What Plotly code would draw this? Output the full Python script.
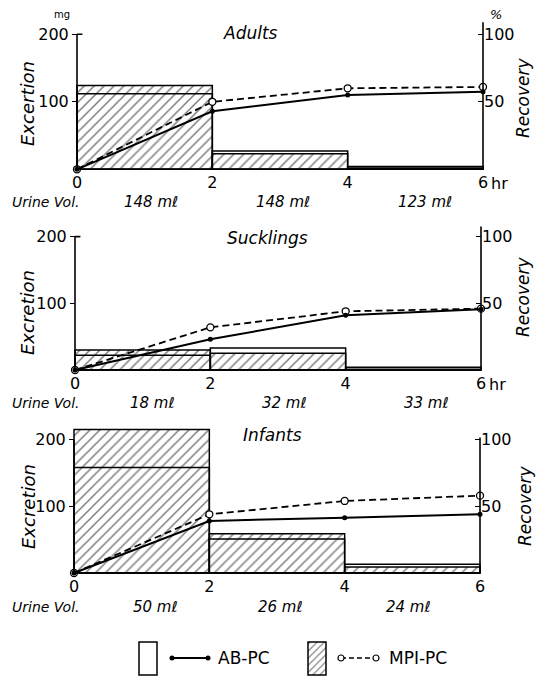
import plotly.graph_objects as go

# ---------------- data ----------------
hours = [0, 2, 4, 6]
bin_centers = [1, 3, 5]
hour_labels = ["0", "2", "4", "6"]
panel_titles = ["Adults", "Sucklings", "Infants"]
excretion_titles = ["Excertion", "Excretion", "Excretion"]
legend_names = ["AB-PC", "MPI-PC"]

# excretion per 2-h period (mg)
adults_ab_mg = [112, 27, 4]
adults_mpi_mg = [124, 23, 2]
sucklings_ab_mg = [22, 33, 4]
sucklings_mpi_mg = [30, 25, 1]
infants_ab_mg = [158, 51, 13]
infants_mpi_mg = [215, 59, 9]

# cumulative recovery (%)
adults_ab_rec = [0, 43, 55, 57.5]
adults_mpi_rec = [0, 50, 60, 61]
sucklings_ab_rec = [0, 23, 41, 45.5]
sucklings_mpi_rec = [0, 32, 44, 46]
infants_ab_rec = [0, 39, 41.5, 44]
infants_mpi_rec = [0, 44, 54, 58]

# urine volumes per period
adults_urine = ["148 m\u2113", "148 m\u2113", "123 m\u2113"]
sucklings_urine = ["18 m\u2113", "32 m\u2113", "33 m\u2113"]
infants_urine = ["50 m\u2113", "26 m\u2113", "24 m\u2113"]

# ---------------- layout geometry (page pixels) ----------------
W, H = 536, 677
FONT = "DejaVu Sans, Liberation Sans, sans-serif"


def px(x, y):
    return x / W, 1 - y / H


panels = [
    dict(ab=adults_ab_mg, mpi=adults_mpi_mg, abr=adults_ab_rec, mpir=adults_mpi_rec,
         urine=adults_urine, x0=77, x6=483, base=169.3, ppu=0.675, ytop=220, raxis_top=218,
         corner=True, hr=True),
    dict(ab=sucklings_ab_mg, mpi=sucklings_mpi_mg, abr=sucklings_ab_rec, mpir=sucklings_mpi_rec,
         urine=sucklings_urine, x0=75, x6=481, base=370, ppu=0.667, ytop=220, raxis_top=215,
         corner=True, hr=True),
    dict(ab=infants_ab_mg, mpi=infants_mpi_mg, abr=infants_ab_rec, mpir=infants_mpi_rec,
         urine=infants_urine, x0=74, x6=480, base=573, ppu=0.667, ytop=225, raxis_top=203,
         corner=False, hr=False),
]
title_pos = [(250, 33), (267, 238), (272, 435)]
exc_pos = [(28, 104), (28, 313), (28, 507)]
rec_pos = [(523, 98), (523, 297), (525, 506)]
urine_y = [202, 403, 607]
hr_y = [183, 384]
vol_shift = [(0.1, 0.05, 0.15), (0.15, 0.1, 0.2), (0.2, 0.05, -0.05)]

fig = go.Figure()
shapes = []
annotations = []
layout = dict(width=W, height=H, margin=dict(l=0, r=0, t=0, b=0),
              paper_bgcolor="white", plot_bgcolor="rgba(0,0,0,0)",
              barmode="overlay", showlegend=False,
              font=dict(family=FONT, color="black", size=16))


def note(text, x, y, size, angle=0, xanchor="center", xref="paper", yref="paper"):
    annotations.append(dict(text=text, x=x, y=y, xref=xref, yref=yref, showarrow=False,
                            xanchor=xanchor, yanchor="middle", textangle=angle,
                            font=dict(size=size, family=FONT, color="black")))


XPAD = 0.1
YLOW = -3
for i, p in enumerate(panels):
    xn = "" if i == 0 else str(i + 1)
    yl = "" if i == 0 else str(2 * i + 1)
    yr = str(2 * i + 2)
    xa, ya, ya2 = "x" + xn, "y" + yl, "y" + yr
    ppux = (p["x6"] - p["x0"]) / 6.0
    dx0 = px(p["x0"] - XPAD * ppux, 0)[0]
    dx1 = px(p["x6"] + XPAD * ppux, 0)[0]
    bot_px = p["base"] - YLOW * p["ppu"]
    top_px = p["base"] - p["ytop"] * p["ppu"]
    dy0, dy1 = px(0, bot_px)[1], px(0, top_px)[1]

    # hatched MPI-PC bars
    fig.add_trace(go.Bar(
        x=bin_centers, y=p["mpi"], width=2, xaxis=xa, yaxis=ya,
        marker=dict(color="white", line=dict(color="black", width=1.5),
                    pattern=dict(shape="/", fgcolor="black", bgcolor="white",
                                 size=7, solidity=0.22)),
        hoverinfo="skip"))
    # open AB-PC bars
    fig.add_trace(go.Bar(
        x=bin_centers, y=p["ab"], width=2, xaxis=xa, yaxis=ya,
        marker=dict(color="rgba(0,0,0,0)", line=dict(color="black", width=1.5)),
        hoverinfo="skip"))
    # recovery lines
    fig.add_trace(go.Scatter(
        x=hours, y=p["mpir"], xaxis=xa, yaxis=ya2, mode="lines+markers",
        line=dict(color="black", width=1.8, dash="7px,4px"),
        marker=dict(symbol="circle", size=7, color="white",
                    line=dict(color="black", width=1.3)),
        cliponaxis=False, hoverinfo="skip"))
    fig.add_trace(go.Scatter(
        x=hours, y=p["abr"], xaxis=xa, yaxis=ya2, mode="lines+markers",
        line=dict(color="black", width=2),
        marker=dict(symbol="circle", size=5, color="black"),
        cliponaxis=False, hoverinfo="skip"))

    layout["xaxis" + xn] = dict(
        domain=[dx0, dx1], range=[-XPAD, 6 + XPAD], anchor=ya,
        tickvals=hours, ticktext=hour_labels, ticks="", showgrid=False,
        zeroline=False, showline=False, tickfont=dict(size=16, family=FONT))
    layout["yaxis" + yl] = dict(
        domain=[dy0, dy1], range=[YLOW, p["ytop"]], anchor="free",
        position=px(p["x0"], 0)[0], side="left",
        tickvals=[100, 200], ticks="outside", ticklen=5, tickcolor="black",
        showgrid=False, zeroline=False, showline=False,
        tickfont=dict(size=16, family=FONT))
    layout["yaxis" + yr] = dict(
        overlaying=ya, range=[YLOW / 2, p["ytop"] / 2], anchor="free",
        position=px(p["x6"], 0)[0], side="right",
        tickvals=[50, 100], ticks="inside", ticklen=5, tickcolor="black",
        showgrid=False, zeroline=False, showline=False,
        tickfont=dict(size=16, family=FONT))

    # axis lines
    shapes.append(dict(type="line", xref=xa, yref=ya, x0=0, x1=0, y0=0, y1=200,
                       line=dict(color="black", width=1.6)))
    shapes.append(dict(type="line", xref=xa, yref=ya, x0=6, x1=6, y0=0, y1=p["raxis_top"],
                       line=dict(color="black", width=1.6)))
    shapes.append(dict(type="line", xref=xa, yref=ya, x0=0, x1=6, y0=0, y1=0,
                       line=dict(color="black", width=1.6)))
    if p["corner"]:
        shapes.append(dict(type="line", xref=xa, yref=ya, x0=0, x1=0.08, y0=200, y1=200,
                           line=dict(color="black", width=1.6)))

    # texts
    tx, ty = px(*title_pos[i])
    note("<i>%s</i>" % panel_titles[i], tx, ty, 17)
    ex, ey = px(*exc_pos[i])
    note("<i>%s</i>" % excretion_titles[i], ex, ey, 18, angle=-90)
    rx, ry = px(*rec_pos[i])
    note("<i>Recovery</i>", rx, ry, 17, angle=-90)
    ux, uy = px(10, urine_y[i])
    note("<i>Urine Vol.</i>", ux, uy, 14, xanchor="left")
    for k, c in enumerate(bin_centers):
        note("<i>%s</i>" % p["urine"][k], c + vol_shift[i][k], uy, 15, xref=xa)
    if p["hr"]:
        hx, hy = px(p["x6"] + 6, hr_y[i])
        note("hr", hx, hy, 16, xanchor="left")

# units
mx, my = px(62, 15)
note("mg", mx, my, 10)
pcx, pcy = px(496, 15)
note("<i>%</i>", pcx, pcy, 13)

# ---------------- legend (own page-pixel axes) ----------------
layout["xaxis4"] = dict(domain=[0, 1], range=[0, W], visible=False, anchor="y7")
layout["yaxis7"] = dict(domain=[0, 50 / H], range=[H, H - 50], visible=False, anchor="x4")
fig.add_trace(go.Bar(x=[148], y=[33], base=[642], width=[18], xaxis="x4", yaxis="y7",
                     marker=dict(color="white", line=dict(color="black", width=1.5)),
                     hoverinfo="skip"))
fig.add_trace(go.Bar(x=[317], y=[33], base=[642], width=[18], xaxis="x4", yaxis="y7",
                     marker=dict(color="white", line=dict(color="black", width=1.5),
                                 pattern=dict(shape="/", fgcolor="black", bgcolor="white",
                                              size=5, solidity=0.22)),
                     hoverinfo="skip"))
fig.add_trace(go.Scatter(x=[172, 208], y=[658, 658], xaxis="x4", yaxis="y7",
                         mode="lines+markers", line=dict(color="black", width=2),
                         marker=dict(size=5, color="black"), hoverinfo="skip"))
fig.add_trace(go.Scatter(x=[341, 376], y=[658, 658], xaxis="x4", yaxis="y7",
                         mode="lines+markers", line=dict(color="black", width=1.6, dash="5px,3px"),
                         marker=dict(size=6, color="white", line=dict(color="black", width=1.2)),
                         hoverinfo="skip"))
for name, lx in zip(legend_names, [216, 387]):
    note(name, lx, 658, 17, xanchor="left", xref="x4", yref="y7")

layout["shapes"] = shapes
layout["annotations"] = annotations
fig.update_layout(**layout)
fig.write_html("out.html",
               config={"displayModeBar": False, "staticPlot": True},
               post_script="document.body.style.margin='0px';"
                           "document.body.style.overflow='hidden';")
